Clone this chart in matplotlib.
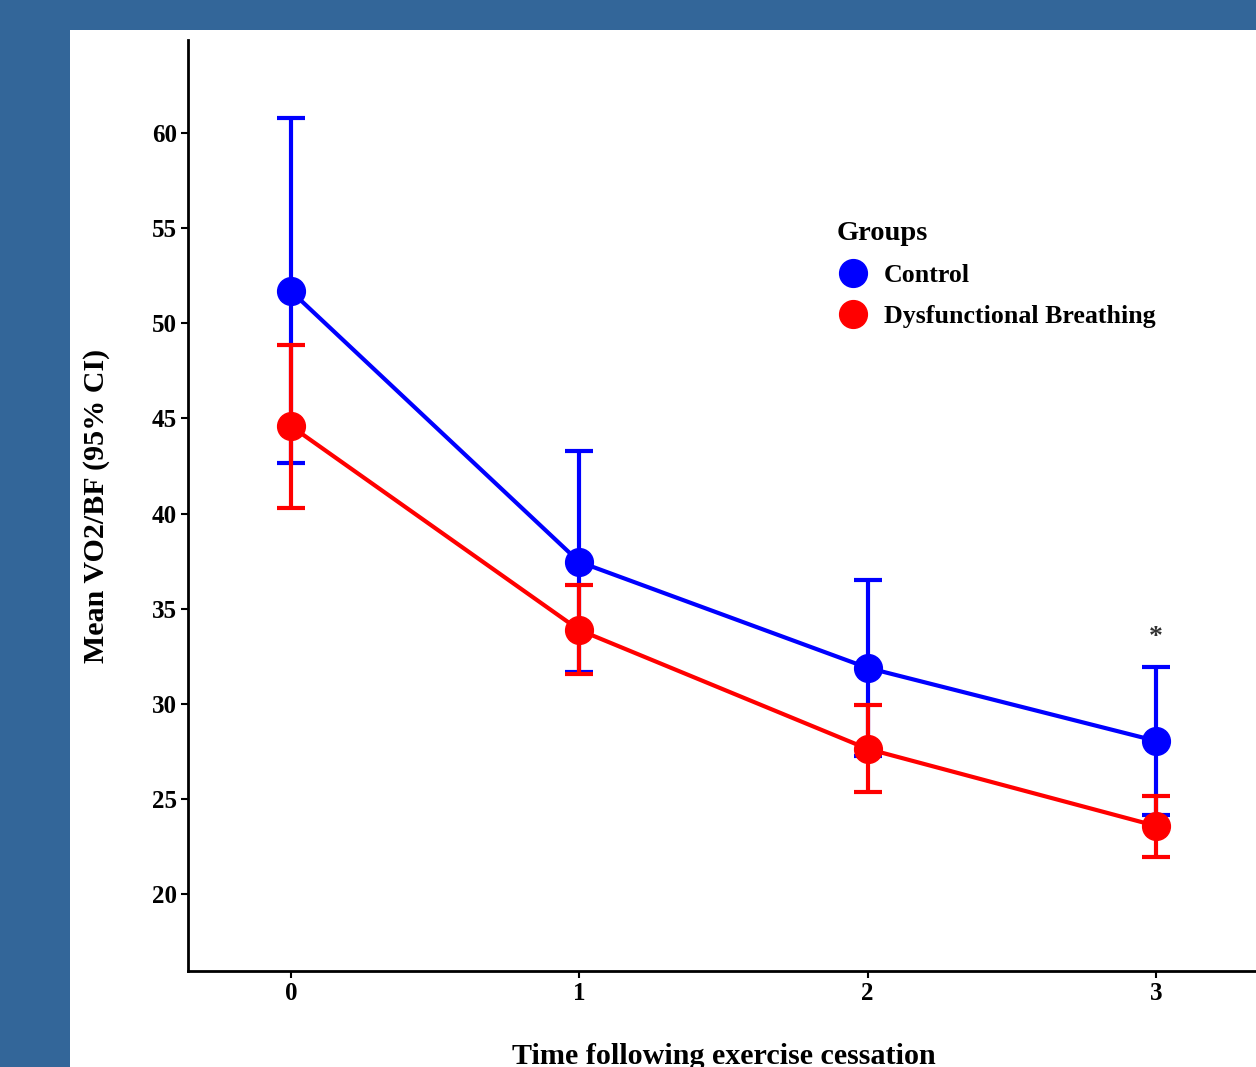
import numpy as np
import matplotlib.pyplot as plt
from matplotlib.patches import Rectangle
from matplotlib.lines import Line2D

# ---------------------------------------------------------------------------
time_pts = [0, 1, 2, 3]

ctrl_mean = [51.7, 37.46, 31.89, 28.05]
ctrl_lo   = [42.66, 31.68, 27.26, 24.16]
ctrl_hi   = [60.79, 43.29, 36.51, 31.94]

dys_mean  = [44.6, 33.88, 27.63, 23.58]
dys_lo    = [40.29, 31.57, 25.37, 21.95]
dys_hi    = [48.86, 36.25, 29.94, 25.16]

groups    = ['Control', 'Dysfunctional Breathing']
colors    = ['#0000ff', '#ff0000']
y_ticks   = [20, 25, 30, 35, 40, 45, 50, 55, 60]
star_at   = (3, 33.5)
# ---------------------------------------------------------------------------

plt.rcParams['font.family'] = ['Liberation Serif', 'DejaVu Serif']
plt.rcParams['font.weight'] = 'bold'

W, H = 1256, 1067
fig = plt.figure(figsize=(W / 100, H / 100), dpi=100, facecolor='#336699')

# white panel behind everything
fig.patches.append(Rectangle((70 / W, 0), 1.0, 1 - 30 / H,
                             transform=fig.transFigure, facecolor='white',
                             edgecolor='none', zorder=-10))

ax = fig.add_axes([188 / W, 96 / H, (1300 - 188) / W, (971 - 40) / H])
ax.set_facecolor('none')

series = [(ctrl_mean, ctrl_lo, ctrl_hi), (dys_mean, dys_lo, dys_hi)]
for (m, lo, hi), col in zip(series, colors):
    m, lo, hi = map(np.asarray, (m, lo, hi))
    ax.errorbar(time_pts, m, yerr=[m - lo, hi - m], fmt='none', ecolor=col,
                elinewidth=3, capsize=10, capthick=3, zorder=2)
    ax.plot(time_pts, m, '-o', color=col, lw=3, ms=20, zorder=3)

ax.text(*star_at, '*', ha='center', va='center', fontsize=20, color='#333333')

ax.set_xlim(-0.357, 3.5)
ax.set_ylim(15.95, 64.9)
ax.set_xticks(time_pts)
ax.set_yticks(y_ticks)
ax.tick_params(labelsize=18, length=5, width=1.5, color='black', pad=3)
for lab in ax.get_xticklabels() + ax.get_yticklabels():
    lab.set_fontweight('bold')

for s in ('top', 'right'):
    ax.spines[s].set_visible(False)
for s in ('left', 'bottom'):
    ax.spines[s].set_linewidth(2)

ax.set_ylabel('Mean VO2/BF (95% CI)', fontsize=21.6, fontweight='bold', labelpad=30)
fig.text(724 / W, 1 - 1057 / H, 'Time following exercise cessation',
         ha='center', va='center', fontsize=21.7, fontweight='bold')

handles = [Line2D([], [], color=c, marker='o', ms=20, lw=0) for c in colors]
leg = fig.legend(handles, groups, title='Groups', loc='upper left',
                 bbox_to_anchor=(813 / W, 1 - 198 / H), frameon=False,
                 prop={'size': 18.6, 'weight': 'bold'}, handlelength=1.3,
                 handletextpad=0.55, labelspacing=0.68, alignment='left')
leg.get_title().set_fontsize(20.5)
leg.get_title().set_fontweight('bold')

fig.savefig('out.png', dpi=100, facecolor=fig.get_facecolor())
